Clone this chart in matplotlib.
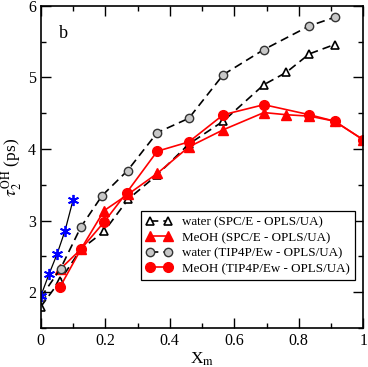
import matplotlib
matplotlib.use("Agg")
import matplotlib.pyplot as plt
from matplotlib.ticker import MultipleLocator, FuncFormatter

plt.rcParams['font.family'] = ['Liberation Serif', 'DejaVu Serif']
plt.rcParams['mathtext.fontset'] = 'stix'

# water, SPC/E - OPLS/UA
xw_spce = [0, 0.059, 0.124, 0.196, 0.271, 0.361, 0.459, 0.566, 0.692, 0.761, 0.833, 0.911]
tw_spce = [1.80, 2.16, 2.60, 2.85, 3.30, 3.64, 4.07, 4.39, 4.90, 5.07, 5.33, 5.46]
# MeOH, SPC/E - OPLS/UA
xm_spce = [0.059, 0.124, 0.196, 0.271, 0.361, 0.459, 0.566, 0.692, 0.761, 0.833, 0.911, 1.0]
tm_spce = [2.32, 2.60, 3.14, 3.37, 3.66, 4.03, 4.27, 4.51, 4.48, 4.46, 4.39, 4.13]
# water, TIP4P/Ew - OPLS/UA
xw_tip = [0, 0.061, 0.124, 0.19, 0.269, 0.361, 0.459, 0.566, 0.692, 0.833, 0.911]
tw_tip = [1.93, 2.33, 2.91, 3.35, 3.70, 4.23, 4.43, 5.04, 5.39, 5.72, 5.84]
# MeOH, TIP4P/Ew - OPLS/UA
xm_tip = [0.059, 0.124, 0.196, 0.266, 0.361, 0.459, 0.566, 0.692, 0.833, 0.911, 1.0]
tm_tip = [2.07, 2.60, 2.98, 3.39, 3.97, 4.10, 4.48, 4.62, 4.48, 4.39, 4.13]
# extra series (blue asterisks)
x_blue = [0, 0.025, 0.05, 0.075, 0.1]
t_blue = [1.95, 2.25, 2.53, 2.86, 3.29]

fig = plt.figure(figsize=(3.68, 3.67), dpi=100)
ax = fig.add_axes([0.111, 0.106, 0.876, 0.878])

ax.plot(xw_spce, tw_spce, color='black', lw=1.2, dashes=(5, 3), marker='^',
        ms=6, mfc='white', mec='black', mew=1.2, label='water (SPC/E - OPLS/UA)')
ax.plot(xm_spce, tm_spce, color='red', lw=1.2, marker='^', ms=7,
        mfc='red', mec='red', label='MeOH (SPC/E - OPLS/UA)')
ax.plot(xw_tip, tw_tip, color='black', lw=1.2, dashes=(5, 3), marker='o',
        ms=6, mfc='#c8c8c8', mec='#333333', mew=1.0, label='water (TIP4P/Ew - OPLS/UA)')
ax.plot(xm_tip, tm_tip, color='red', lw=1.2, marker='o', ms=7,
        mfc='red', mec='red', label='MeOH (TIP4P/Ew - OPLS/UA)')
ax.plot(x_blue, t_blue, color='black', lw=0.9, marker=(6, 2, 0), ms=8,
        mec='blue', mew=1.3)

ax.set_xlim(0, 1)
ax.set_ylim(1.5, 6)
ax.xaxis.set_major_locator(MultipleLocator(0.2))
ax.xaxis.set_minor_locator(MultipleLocator(0.1))
ax.yaxis.set_major_locator(MultipleLocator(1))
ax.yaxis.set_minor_locator(MultipleLocator(0.5))
ax.xaxis.set_major_formatter(FuncFormatter(lambda v, p: '%g' % v))
ax.tick_params(which='both', direction='in', top=True, right=True, labelsize=11.5, width=1)
ax.tick_params(which='major', length=7)
ax.tick_params(which='minor', length=3.5)
for s in ax.spines.values():
    s.set_linewidth(1.2)

ax.set_xlabel(r'X$_{\rm m}$', fontsize=12.5, labelpad=1)
ax.set_ylabel(r'$\tau_2^{\rm OH}$ (ps)', fontsize=12.5, labelpad=3)
ax.text(0.055, 0.9, 'b', transform=ax.transAxes, fontsize=13)

leg = ax.legend(loc='lower right', bbox_to_anchor=(0.976, 0.149), borderaxespad=0,
                fontsize=9.4, numpoints=2, handlelength=2.0, fancybox=False,
                edgecolor='black', framealpha=1, labelspacing=0.25, borderpad=0.4)
leg.get_frame().set_linewidth(0.9)

fig.savefig('out.png', dpi=100)
